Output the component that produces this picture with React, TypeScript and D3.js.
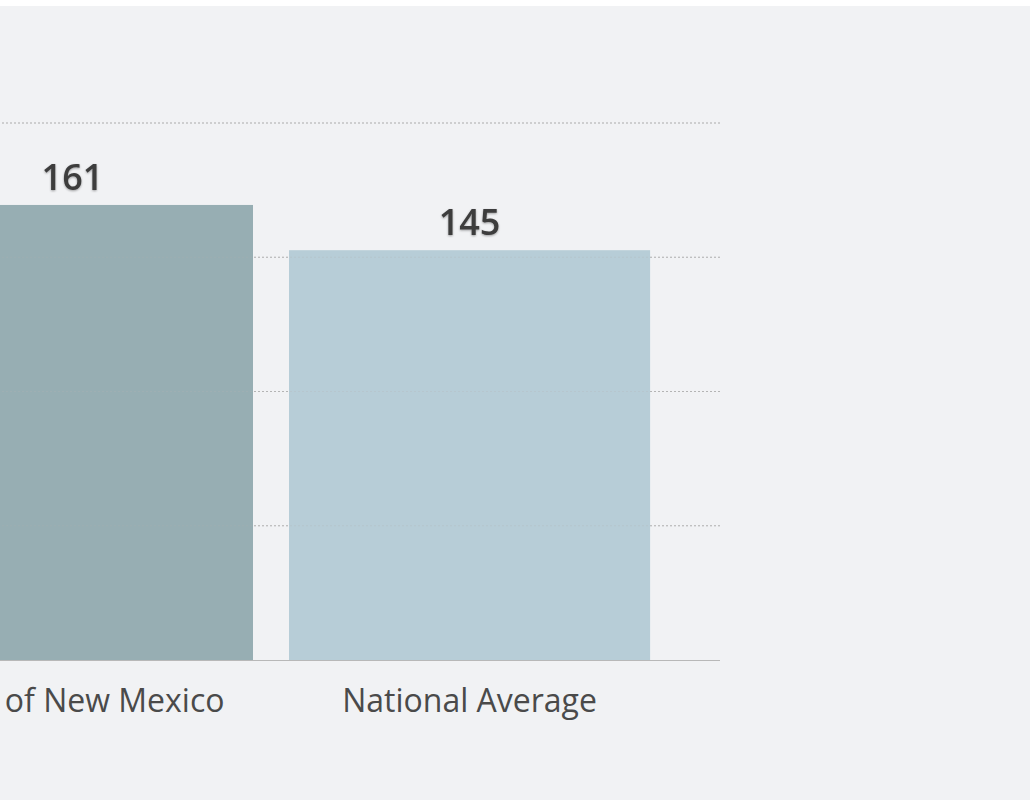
import React from "react";
import * as d3 from "d3";

const categories = ["State of New Mexico", "National Average"];
const values = [161, 145];
const gridValues = [47.5, 95, 142.5, 190];
const barColors = ["#97AEB3", "#B7CDD7"];

const W = 1035;
const H = 805;

export default function App() {
  const x = d3
    .scaleBand<string>()
    .domain(categories)
    .range([-178, 720])
    .paddingInner(0.0907)
    .paddingOuter(0.176);
  const y = d3.scaleLinear().domain([0, 190]).range([660, 123]);

  return (
    <svg
      width={W}
      height={H}
      style={{ position: "absolute", left: 0, top: 0, overflow: "hidden" }}
    >
      <defs>
        <filter id="ts" x="-20%" y="-20%" width="140%" height="140%">
          <feDropShadow dx="0" dy="1" stdDeviation="1.2" floodColor="#000" floodOpacity="0.35" />
        </filter>
      </defs>
      <rect x={0} y={6} width={1030} height={794} fill="#F1F2F4" />
      {gridValues.map((g) => (
        <line
          key={g}
          x1={-178}
          x2={720}
          y1={y(g)}
          y2={y(g)}
          stroke="#b4b4b4"
          strokeWidth={1}
          strokeDasharray="2,2"
        />
      ))}
      {categories.map((c, i) => (
        <rect
          key={c}
          x={x(c)}
          y={y(values[i])}
          width={x.bandwidth()}
          height={y(0) - y(values[i])}
          fill={barColors[i]}
        />
      ))}
      {gridValues.map((g) => (
        <line
          key={"o" + g}
          x1={-178}
          x2={720}
          y1={y(g)}
          y2={y(g)}
          stroke="#b4b4b4"
          strokeOpacity={0.25}
          strokeWidth={1}
          strokeDasharray="2,2"
        />
      ))}
      <line x1={-178} x2={720} y1={y(0) + 0.5} y2={y(0) + 0.5} stroke="#b8b8b8" strokeWidth={1} />
      {categories.map((c, i) => (
        <text
          key={"v" + c}
          x={(x(c) as number) + x.bandwidth() / 2}
          y={y(values[i]) - 15}
          textAnchor="middle"
          fontFamily="'Open Sans', sans-serif"
          fontWeight={600}
          fontSize={36}
          fill="#3d3d3d"
          filter="url(#ts)"
        >
          {values[i]}
        </text>
      ))}
      {categories.map((c) => (
        <text
          key={"l" + c}
          x={(x(c) as number) + x.bandwidth() / 2}
          y={712}
          textAnchor="middle"
          fontFamily="'Open Sans', sans-serif"
          fontSize={32}
          fill="#4a4a4a"
        >
          {c}
        </text>
      ))}
    </svg>
  );
}
